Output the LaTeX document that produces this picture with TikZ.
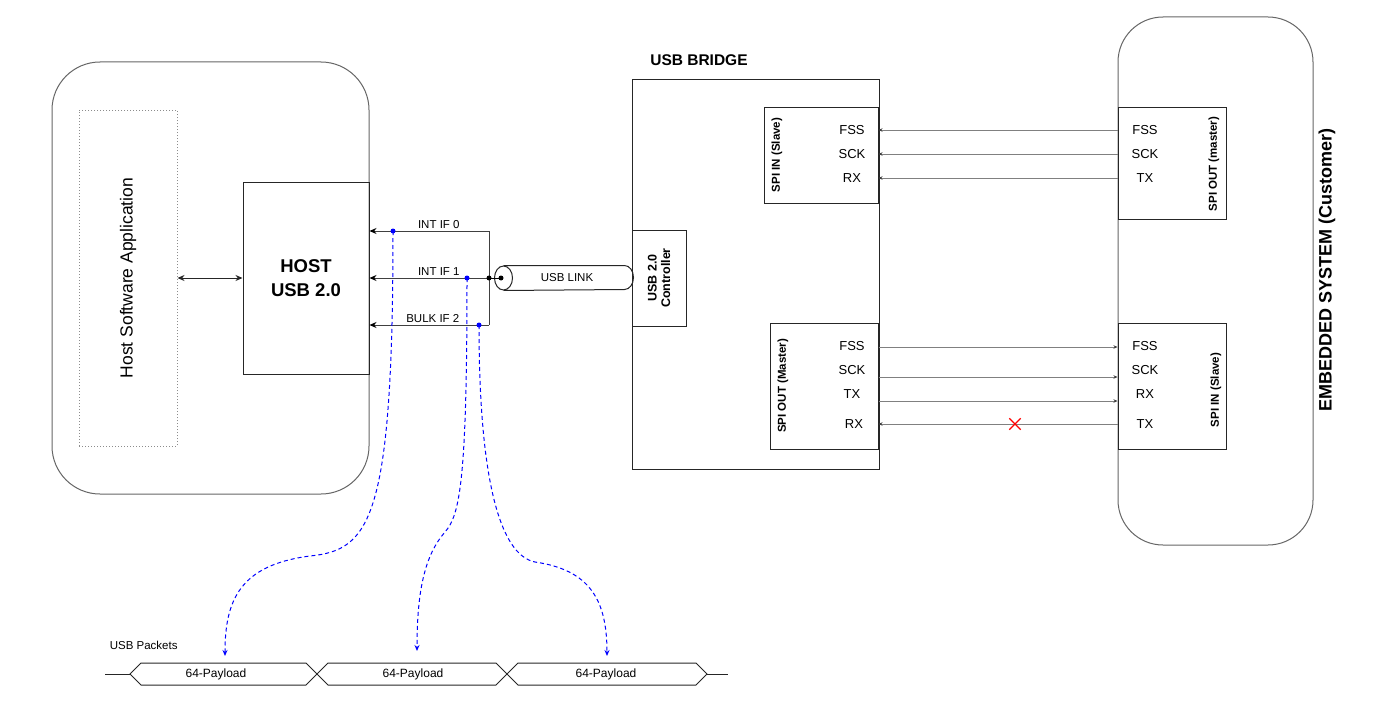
\documentclass[tikz,border=0pt]{standalone}
\usepackage{fontspec}
\setmainfont{Liberation Sans}
\usetikzlibrary{shapes.misc,arrows.meta,positioning,calc}

\begin{document}
\begin{tikzpicture}[x=1pt,y=-1pt,line width=1pt,
	frame/.style={draw=black!60,rounded corners=48pt,inner sep=0pt},
	box/.style={draw=black!85,inner sep=0pt},
	sigtxt/.style={font=\fontsize{13}{15}\selectfont},
	vlbl/.style={rotate=90,align=center,font=\bfseries\fontsize{11.5}{13}\selectfont},
	sig/.style={draw=black!50,-{Stealth[length=4pt,width=3.5pt,black!75]}},
	ifarr/.style={draw=black!75,-{Stealth[length=7pt,width=6pt,black]}},
	tap/.style={draw=blue,dash pattern=on 4pt off 3pt,-{Stealth[length=6pt,width=5pt]}},
	dot/.style={circle,fill,inner sep=0pt,minimum size=5pt}]
\useasboundingbox (0,0) rectangle (1385,701);

% host side
\node[frame,minimum width=317pt,minimum height=432pt] (hostsys) at (210.5,278) {};
\node[draw=black!45,dotted,minimum width=98pt,minimum height=336pt,inner sep=0pt] (app) at (128,278) {};
\node[rotate=90,font=\fontsize{17.5}{19}\selectfont] (applbl) at (app) {Host Software Application};
\node[box,minimum width=126pt,minimum height=192pt,align=center,font=\bfseries\fontsize{18.5}{24}\selectfont] (hostusb) at (306,278) {HOST\\USB 2.0};
\draw[black!85,{Stealth[length=7pt,width=6pt]}-{Stealth[length=7pt,width=6pt]}] (app.east) -- (hostusb.west);

% interfaces
\coordinate (j0) at (489,231);
\coordinate (j1) at (489,278);
\coordinate (j2) at (489,325);
\draw[black!75] (j0) -- (j2);
\draw[ifarr] (j0) -- (j0 -| hostusb.east) node[pos=0.42,above=-1pt,font=\fontsize{11.5}{13}\selectfont] (if0) {INT IF 0};
\draw[ifarr] (j1) -- (j1 -| hostusb.east) node[pos=0.42,above=-1pt,font=\fontsize{11.5}{13}\selectfont] (if1) {INT IF 1};
\draw[ifarr] (j2) -- (j2 -| hostusb.east) node[pos=0.47,above=-1pt,font=\fontsize{11.5}{13}\selectfont] (if2) {BULK IF 2};

% usb link
\node[minimum width=138pt,minimum height=24pt,inner sep=0pt,font=\fontsize{11.5}{13}\selectfont] (link) at (564,278) {\hspace{6pt}USB LINK};
\draw[black!85] (link.north west) ++(9,0) coordinate (lnktop) -- ([xshift=-9pt]link.north east)
	arc[start angle=90,end angle=-90,x radius=9pt,y radius=12pt] -- ([xshift=9pt]link.south west);
\draw[black!85,fill=white] ([xshift=9pt]link.west) ellipse [x radius=9pt,y radius=12pt];
\coordinate (lnk) at (501,278);
\draw (j1) -- (lnk);
\node[dot] at (j1) {};
\node[dot] at (lnk) {};

% usb bridge
\node[box,minimum width=247pt,minimum height=389pt] (bridge) at (755.5,274.5) {};
\node[font=\bfseries\fontsize{15.5}{18}\selectfont] (bridgelbl) at (699,60) {USB BRIDGE};
\node[box,minimum width=54pt,minimum height=96pt] (ctrl) at (659,278) {};
\node[vlbl,font=\bfseries\fontsize{12.5}{13.5}\selectfont] (ctrllbl) at (ctrl) {USB 2.0\\Controller};
\node[box,minimum width=114pt,minimum height=96pt] (bin) at (821,155) {};
\node[vlbl] (binlbl) at (777,155) {SPI IN (Slave)};
\node[box,minimum width=108pt,minimum height=126pt] (bout) at (824,386) {};
\node[vlbl] (boutlbl) at (783,386) {SPI OUT (Master)};
\foreach \t/\y in {FSS/130,SCK/154,RX/178}
	\node[sigtxt] at (852,\y) {\t};
\foreach \t/\y in {FSS/346,SCK/370,TX/394}
	\node[sigtxt] at (852,\y) {\t};
\node[sigtxt] at (854,424) {RX};

% embedded system
\node[frame,rounded corners=45pt,minimum width=195pt,minimum height=528pt] (emb) at (1215.5,281) {};
\node[rotate=90,font=\bfseries\fontsize{18}{20}\selectfont] (emblbl) at (1327,270) {EMBEDDED SYSTEM (Customer)};
\node[box,minimum width=108pt,minimum height=112pt] (eout) at (1172,163) {};
\node[vlbl] (eoutlbl) at (1214,164) {SPI OUT (master)};
\node[box,minimum width=108pt,minimum height=126pt] (ein) at (1172,386) {};
\node[vlbl] (einlbl) at (1216,390) {SPI IN (Slave)};
\foreach \t/\y in {FSS/130,SCK/154,TX/178}
	\node[sigtxt] at (1145,\y) {\t};
\foreach \t/\y in {FSS/346,SCK/370,RX/394,TX/424}
	\node[sigtxt] at (1145,\y) {\t};

% spi wires
\foreach \y in {130,154,178}
	\draw[sig] (eout.west |- 0,\y) -- (bin.east |- 0,\y);
\foreach \y in {347,377,401}
	\draw[sig] (bout.east |- 0,\y) -- (ein.west |- 0,\y);
\draw[sig] (ein.west |- 0,424) -- (bout.east |- 0,424);
\node[cross out,draw=red,line width=1.3pt,minimum size=10pt,inner sep=0pt] (cut) at (1015,424) {};

% usb packets
\node[anchor=west,font=\fontsize{11.5}{13}\selectfont] (pktlbl) at (106,645) {USB Packets};
\coordinate (p0) at (130,674);
\coordinate (p1) at (317,674);
\coordinate (p2) at (507,674);
\coordinate (p3) at (707,674);
\draw[black!85] (105,674) -- (p0);
\draw[black!85] (p3) -- (728,674);
\foreach \a/\b in {p0/p1,p1/p2,p2/p3}
	\draw[black!85,line join=miter] (\a) -- ([shift={(11,-11)}]\a) -- ([shift={(-11,-11)}]\b) -- (\b) -- ([shift={(-11,11)}]\b) -- ([shift={(11,11)}]\a) -- cycle;
\node[font=\fontsize{12}{14}\selectfont] (pl0) at (216,674) {64-Payload};
\node[font=\fontsize{12}{14}\selectfont] (pl1) at (413,674) {64-Payload};
\node[font=\fontsize{12}{14}\selectfont] (pl2) at (606,674) {64-Payload};

% taps
\coordinate (tap0) at (393,231);
\coordinate (tap1) at (467,278);
\coordinate (tap2) at (479,325);
\draw[tap] (tap0) .. controls (393,520) and (370,550) .. (310,556) .. controls (240,565) and (225,600) .. (225,656);
\draw[tap] (tap1) .. controls (467,480) and (460,515) .. (445,532) .. controls (425,555) and (417,590) .. (417,651);
\draw[tap] (tap2) .. controls (479,480) and (500,555) .. (535,562) .. controls (590,570) and (607,600) .. (607,656);
\foreach \c in {tap0,tap1,tap2}
	\node[dot,blue,minimum size=5pt] at (\c) {};
\end{tikzpicture}
\end{document}
